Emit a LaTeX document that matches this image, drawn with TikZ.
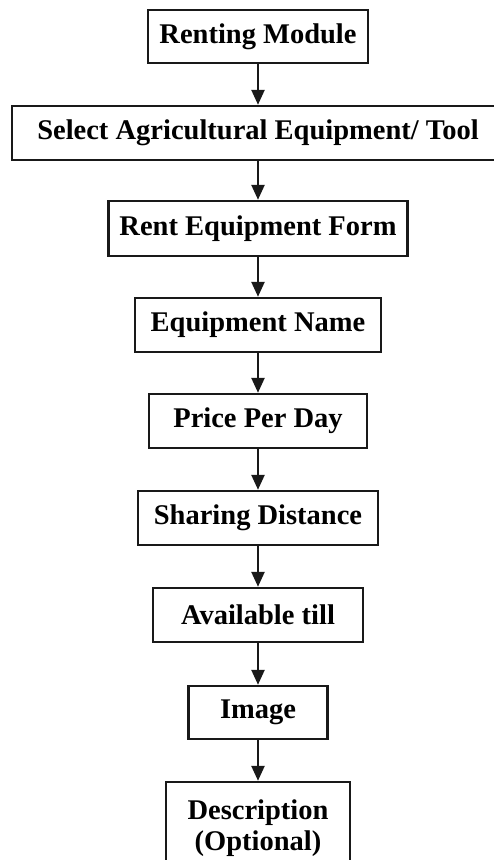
\documentclass[tikz,border=0pt]{standalone}
\usepackage{fontspec}
\setmainfont{Liberation Serif}
\usetikzlibrary{arrows.meta}
\begin{document}
\begin{tikzpicture}[x=1pt,y=-1pt,
  stepbox/.style={draw=black!90, line width=2.4pt, fill=white, inner sep=0pt,
    align=center, font=\fontsize{28.5}{31}\selectfont\bfseries},
  flow/.style={draw=black!90, line width=2.4pt,
    -{Triangle[length=15pt,width=13pt]}}]
\useasboundingbox (0,0) rectangle (494,860);
\clip (0,0) rectangle (494,860);
\fill[white] (0,0) rectangle (494,860);
% flow steps of the renting module
\node[stepbox, minimum width=220pt, minimum height=53pt] (b1) at (258,36.5) {Renting Module};
\node[stepbox, minimum width=492pt, minimum height=54pt] (b2) at (258,133) {Select Agricultural Equipment/ Tool};
\node[stepbox, minimum width=299pt, minimum height=55pt] (b3) at (258,228.5) {Rent Equipment Form};
\node[stepbox, minimum width=246pt, minimum height=54pt] (b4) at (258,325) {Equipment Name};
\node[stepbox, minimum width=218pt, minimum height=54pt] (b5) at (258,421) {Price Per Day};
\node[stepbox, minimum width=240pt, minimum height=54pt] (b6) at (258,518) {Sharing Distance};
\node[stepbox, minimum width=210pt, minimum height=54pt] (b7) at (258,615) {Available till};
\node[stepbox, minimum width=139pt, minimum height=53pt] (b8) at (258,712.5) {Image};
\node[stepbox, minimum width=184pt, minimum height=92pt] (b9) at (258,828) {Description\\(Optional)};
% connectors
\foreach \a/\b in {b1/b2,b2/b3,b3/b4,b4/b5,b5/b6,b6/b7,b7/b8,b8/b9}
  \draw[flow] (\a) -- (\b);
\end{tikzpicture}
\end{document}
